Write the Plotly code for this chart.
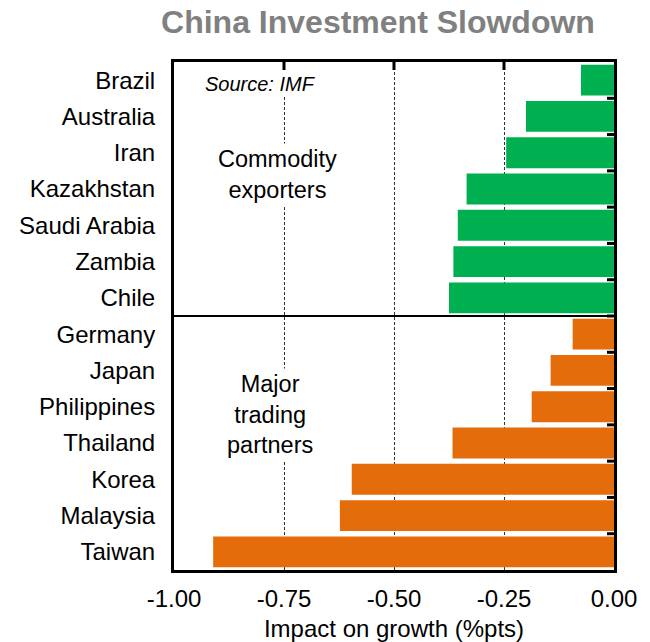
import plotly.graph_objects as go

# Impact on GDP growth of a China investment slowdown (percentage points)
commodity_countries = ["Brazil", "Australia", "Iran", "Kazakhstan", "Saudi Arabia", "Zambia", "Chile"]
commodity_impact = [-0.075, -0.20, -0.245, -0.335, -0.355, -0.365, -0.375]

trading_countries = ["Germany", "Japan", "Philippines", "Thailand", "Korea", "Malaysia", "Taiwan"]
trading_impact = [-0.094, -0.144, -0.187, -0.367, -0.596, -0.623, -0.911]

x_ticks = [-1.0, -0.75, -0.5, -0.25, 0.0]
x_tick_labels = ["-1.00", "-0.75", "-0.50", "-0.25", "0.00"]

GREEN = "#00B050"
ORANGE = "#E46C0A"
FONT = "Liberation Sans, Arial, sans-serif"

PLOT_W, PLOT_H = 440, 508  # plot area in px (from size and margins)

categories = commodity_countries + trading_countries
n_cat = len(categories)
# row boundaries get small tick marks on the right edge
row_boundaries = [i + 0.5 for i in range(n_cat - 1)]

fig = go.Figure()
fig.add_trace(go.Bar(
    y=commodity_countries, x=commodity_impact, orientation="h",
    marker=dict(color=GREEN, line=dict(width=0)), showlegend=False,
))
fig.add_trace(go.Bar(
    y=trading_countries, x=trading_impact, orientation="h",
    marker=dict(color=ORANGE, line=dict(width=0)), showlegend=False,
))

# divider between the two country groups
fig.add_shape(
    type="line", xref="x domain", yref="y",
    x0=0, x1=1, y0=len(commodity_countries) - 0.5, y1=len(commodity_countries) - 0.5,
    line=dict(color="black", width=2),
)

# inward tick marks along the top edge at the grid positions
for t in x_ticks[1:-1]:
    fig.add_shape(
        type="line", xref="x", yref="y domain",
        x0=t, x1=t, y0=1, y1=1 - 8 / PLOT_H,
        line=dict(color="black", width=3),
    )
# inward tick marks along the right edge between rows
for b in row_boundaries:
    fig.add_shape(
        type="line", xref="x domain", yref="y",
        x0=1, x1=1 - 7 / PLOT_W, y0=b, y1=b,
        line=dict(color="black", width=3),
    )

fig.add_annotation(
    text="<i>Source: IMF</i>", xref="x domain", yref="y domain",
    x=0.066, y=0.957, xanchor="left", yanchor="middle", showarrow=False,
    font=dict(family=FONT, size=20, color="black"), bgcolor="white", borderpad=1,
)
fig.add_annotation(
    text="Commodity<br>exporters", xref="x domain", yref="y domain",
    x=0.235, y=0.778, xanchor="center", yanchor="middle", showarrow=False,
    font=dict(family=FONT, size=23.5, color="black"), bgcolor="white", borderpad=2,
)
fig.add_annotation(
    text="Major<br>trading<br>partners", xref="x domain", yref="y domain",
    x=0.218, y=0.307, xanchor="center", yanchor="middle", showarrow=False,
    font=dict(family=FONT, size=23.5, color="black"), bgcolor="white", borderpad=2,
)

fig.update_layout(
    width=650, height=642,
    margin=dict(l=174, r=36, t=62, b=72, autoexpand=False),
    paper_bgcolor="white", plot_bgcolor="white",
    bargap=0.15, barmode="overlay",
    font=dict(family=FONT, size=24, color="black"),
    title=dict(
        text="<b>China Investment Slowdown</b>",
        xref="container", yref="container", x=0.5815, y=0.966,
        xanchor="center", yanchor="middle",
        font=dict(family=FONT, size=32, color="#808080"),
    ),
    xaxis=dict(
        range=[-1.0, 0.0], tickvals=x_ticks, ticktext=x_tick_labels,
        showgrid=True, gridcolor="#333333", gridwidth=1, griddash="3px,2px",
        zeroline=False, automargin=False,
        showline=True, linecolor="black", linewidth=3, mirror=True,
        ticks="", ticklabelstandoff=5,
        title=dict(text="Impact on growth (%pts)", standoff=12,
                   font=dict(family=FONT, size=24, color="black")),
        tickfont=dict(family=FONT, size=24, color="black"),
    ),
    yaxis=dict(
        type="category", categoryorder="array", categoryarray=categories,
        range=[n_cat - 0.5, -0.5], automargin=False,
        showgrid=False, zeroline=False,
        showline=True, linecolor="black", linewidth=3, mirror=True,
        ticks="", ticklabelstandoff=11,
        tickfont=dict(family=FONT, size=24, color="black"),
    ),
)

fig.write_html("out.html")
